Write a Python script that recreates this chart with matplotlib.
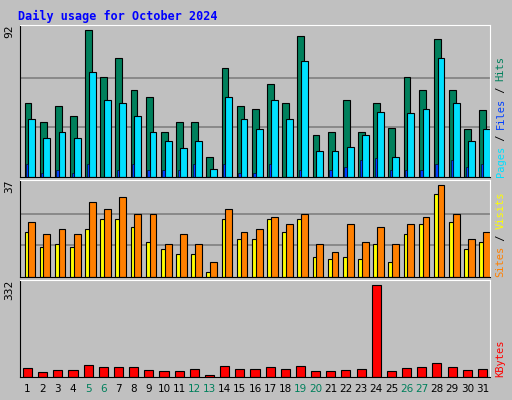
import matplotlib.pyplot as plt
import numpy as np

# valores
dias = list(range(1, 32))
hits = [45.7, 34, 43.8, 37.7, 90.8, 61.7, 73.5, 53.7, 49.4, 27.8, 34, 34, 12.3, 67.3, 43.8, 42,
        57.4, 45.7, 87, 26, 27.8, 47.5, 27.8, 45.7, 30, 61.7, 53.7, 85, 53.7, 29.6, 41.4]
files = [35.8, 24, 27.8, 24, 65, 47.5, 45.7, 37.7, 27.8, 22.2, 17.9, 22.2, 4.9, 49.4, 35.8, 29.6,
         47.5, 35.8, 71.6, 16, 16, 18.5, 25.9, 40.1, 12.3, 39.5, 42, 73.5, 45.7, 22.2, 29.6]
pages = [8, 2.5, 4.3, 2.5, 8, 0, 4.3, 8, 4.3, 4.3, 4.3, 8, 0, 8, 2.5, 2.5,
         8, 0, 4.3, 0, 4.3, 6, 10.5, 12, 4.3, 4.3, 4.3, 8, 10.5, 6, 8]
sites = [17.5, 11.7, 12.9, 11.7, 18.7, 22.6, 22.6, 19.5, 13.6, 10.9, 9, 9, 1.9, 22.6, 14.8, 14.8,
         22.6, 17.5, 22.6, 7.8, 7, 7.8, 7, 12.9, 5.8, 16.7, 20.6, 32.3, 21.4, 10.9, 13.6]
visits = [21.4, 16.7, 18.7, 16.7, 29.2, 26.5, 31.2, 24.5, 24.5, 12.9, 16.7, 12.9, 5.8, 26.5, 17.5, 18.7,
          23.4, 20.6, 24.5, 12.9, 9.7, 20.6, 13.6, 19.5, 12.9, 20.6, 23.4, 35.8, 24.5, 14.8, 17.5]
kbytes = [31, 17, 24, 24, 42, 35, 35, 35, 24, 21, 21, 28, 7, 38, 28, 28,
          35, 28, 38, 21, 21, 24, 28, 322, 21, 31, 35, 49, 35, 24, 28]
fines_semana = [5, 6, 12, 13, 19, 20, 26, 27]

fondo = '#C0C0C0'
x = np.array(dias)
fig = plt.figure(figsize=(5.12, 4), dpi=100, facecolor=fondo)
mono = 'DejaVu Sans Mono'

def preparar(ax, ymax, grid=True):
    ax.set_facecolor(fondo)
    ax.set_xlim(0.5, 31.5)
    ax.set_ylim(0, ymax * 1.02)
    ax.set_xticks([])
    ax.set_yticks([])
    if grid:
        for g in (ymax / 3, 2 * ymax / 3):
            ax.axhline(g, color='#808080', lw=1.2, zorder=0)
    for s in ax.spines.values():
        s.set_color('black')
    ax.spines['top'].set_color('white')
    ax.spines['right'].set_color('white')

bar_kw = dict(edgecolor='black', linewidth=0.8, align='edge')

# panel superior: hits / files / pages
ax1 = fig.add_axes([0.039, 0.5575, 0.918, 0.38])
preparar(ax1, 92)
ax1.bar(x - 0.2, hits, 0.45, color='#00805C', **bar_kw)
ax1.bar(x + 0.05, files, 0.45, color='#00E0FF', **bar_kw)
ax1.bar(x - 0.1, pages, 0.15, color='#0040FF', edgecolor='black', linewidth=0.4, align='edge')
ax1.text(-0.012, 1.0, '92', transform=ax1.transAxes, rotation=90, ha='right', va='top', fontsize=8, family=mono)

# panel medio: sites / visits
ax2 = fig.add_axes([0.039, 0.3075, 0.918, 0.2425])
preparar(ax2, 37)
ax2.bar(x - 0.2, sites, 0.45, color='#FFFF00', **bar_kw)
ax2.bar(x + 0.05, visits, 0.45, color='#FF8000', **bar_kw)
ax2.text(-0.012, 1.0, '37', transform=ax2.transAxes, rotation=90, ha='right', va='top', fontsize=8, family=mono)

# panel inferior: kbytes
ax3 = fig.add_axes([0.039, 0.0575, 0.918, 0.2425])
preparar(ax3, 332, grid=False)
ax3.bar(x - 0.3, kbytes, 0.6, color='#FF0000', **bar_kw)
ax3.text(-0.012, 1.0, '332', transform=ax3.transAxes, rotation=90, ha='right', va='top', fontsize=8, family=mono)

for d in dias:
    col = '#00805C' if d in fines_semana else 'black'
    ax3.text(d, -0.07, str(d), transform=ax3.get_xaxis_transform(), ha='center', va='top',
             fontsize=7.5, color=col)

# etiquetas laterales (6 px por caracter)
def etiqueta(ax, partes):
    alto_px = ax.get_position().height * 400
    y = 0.0
    for txt, col in partes:
        ax.text(1.012, y, txt, transform=ax.transAxes, rotation=90, ha='left', va='bottom',
                fontsize=7.5, family=mono, color=col)
        y += len(txt) * 6.0 / alto_px

etiqueta(ax1, [('Pages', '#00E0FF'), (' / ', 'black'), ('Files', '#0040FF'), (' / ', 'black'), ('Hits', '#00805C')])
etiqueta(ax2, [('Sites', '#FF8000'), (' / ', 'black'), ('Visits', '#FFFF00')])
etiqueta(ax3, [('KBytes', '#FF0000')])

fig.text(0.035, 0.975, 'Daily usage for October 2024', color='#0000FF', fontsize=8.5,
         family=mono, fontweight='bold', ha='left', va='top')

fig.savefig('out.png', dpi=100, facecolor=fondo)
